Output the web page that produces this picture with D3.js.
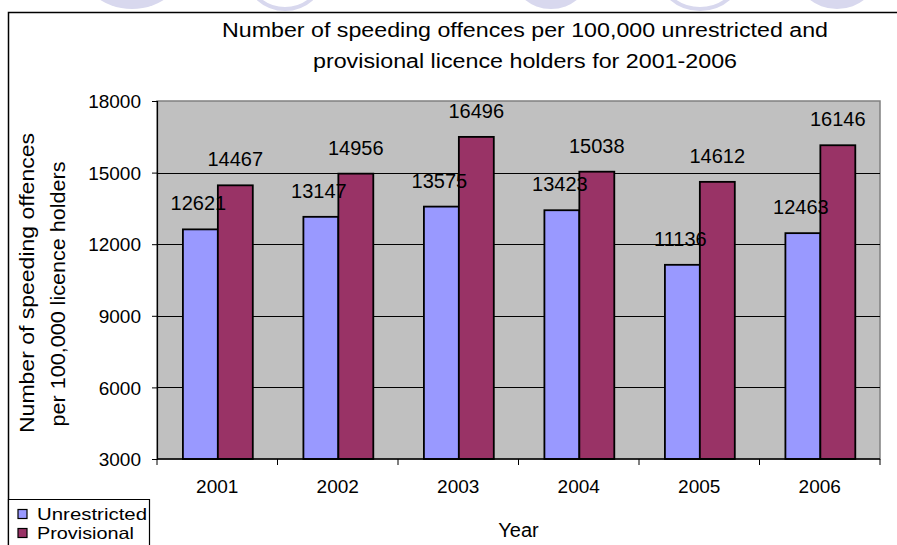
<!DOCTYPE html>
<html>
<head>
<meta charset="utf-8">
<script src="https://cdn.jsdelivr.net/npm/d3@7"></script>
<style>
  html, body { margin: 0; padding: 0; background: #fff; }
  svg { display: block; font-family: "Liberation Sans", Arial, sans-serif; }
</style>
</head>
<body>
<svg id="chart" width="897" height="545"></svg>
<script>
const years = ["2001", "2002", "2003", "2004", "2005", "2006"];
const seriesNames = ["Unrestricted", "Provisional"];
const unrestricted = [12621, 13147, 13575, 13423, 11136, 12463];
const provisional = [14467, 14956, 16496, 15038, 14612, 16146];
const yTicks = [3000, 6000, 9000, 12000, 15000, 18000];
const colors = ["#9999FF", "#993366"];
const titleLines = ["Number of speeding offences per 100,000 unrestricted and", "provisional licence holders for 2001-2006"];
const yTitleLines = ["Number of speeding offences", "per 100,000 licence holders"];

const svg = d3.select("#chart");

// decorative background shapes at the top edge
const deco = [
  {cx: 132, r: 55, fill: true},
  {cx: 285, r: 37, fill: false},
  {cx: 551, r: 38, fill: true},
  {cx: 700, r: 41, fill: false},
  {cx: 837, r: 41, fill: true}
];
svg.selectAll("ellipse.deco").data(deco).enter().append("ellipse")
  .attr("class", "deco")
  .attr("cx", d => d.cx).attr("cy", d => 9 - d.r * 0.9)
  .attr("rx", d => d.r).attr("ry", d => d.r * 0.9)
  .attr("fill", d => d.fill ? "#D8D8EE" : "none")
  .attr("stroke", "#D8D8EE").attr("stroke-width", d => d.fill ? 0 : 4);

// outer frame
svg.append("path").attr("d", "M8.5,545 V12.5 H897")
  .attr("fill", "none").attr("stroke", "#000").attr("stroke-width", 1.5);

const pLeft = 157, pRight = 880, pTop = 101, pBottom = 459;

const x0 = d3.scaleBand().domain(years).range([pLeft, pRight]).padding(0);
const bw = x0.bandwidth();
const x1 = d3.scaleBand().domain(seriesNames).range([bw * 0.215, bw * 0.795]).padding(0);
const y = d3.scaleLinear().domain([3000, 18000]).range([pBottom, pTop]);

// plot area
svg.append("rect").attr("x", pLeft).attr("y", pTop)
  .attr("width", pRight - pLeft).attr("height", pBottom - pTop)
  .attr("fill", "#C0C0C0").attr("stroke", "#808080").attr("stroke-width", 1.5);

// gridlines
svg.append("g").selectAll("line").data(yTicks.filter(t => t > 3000 && t < 18000)).enter().append("line")
  .attr("x1", pLeft).attr("x2", pRight)
  .attr("y1", d => Math.round(y(d)) + 0.5).attr("y2", d => Math.round(y(d)) + 0.5)
  .attr("stroke", "#000").attr("stroke-width", 1);

// bars
const data = years.map((yr, i) => ({year: yr, vals: [unrestricted[i], provisional[i]]}));
const groups = svg.append("g").selectAll("g").data(data).enter().append("g")
  .attr("transform", d => `translate(${x0(d.year)},0)`);
groups.selectAll("rect").data(d => d.vals.map((v, j) => ({name: seriesNames[j], v, j}))).enter().append("rect")
  .attr("x", d => x1(d.name)).attr("width", x1.bandwidth())
  .attr("y", d => y(d.v)).attr("height", d => y(3000) - y(d.v))
  .attr("fill", d => colors[d.j]).attr("stroke", "#000").attr("stroke-width", 1.8);
groups.selectAll("text").data(d => d.vals.map((v, j) => ({name: seriesNames[j], v, j}))).enter().append("text")
  .attr("x", d => x1(d.name) + x1.bandwidth() / 2 - (d.j === 0 ? 2 : 0))
  .attr("y", d => y(d.v) - 19)
  .attr("text-anchor", "middle").attr("font-size", 20).attr("fill", "#000")
  .text(d => d.v);

// y axis
const yAxis = d3.axisLeft(y).tickValues(yTicks).tickSize(5).tickPadding(11).tickFormat(d3.format("d"));
const yg = svg.append("g").attr("transform", `translate(${pLeft},0)`).call(yAxis);
yg.select(".domain").attr("stroke", "#000").attr("stroke-width", 1.2);
yg.selectAll(".tick line").attr("stroke", "#000");
yg.selectAll(".tick text").attr("font-size", 19).attr("font-family", "Liberation Sans, Arial, sans-serif").attr("fill", "#000").attr("dy", "0.35em");

// x axis
const xAxis = d3.axisBottom(x0).tickSize(0).tickPadding(21);
const xg = svg.append("g").attr("transform", `translate(0,${pBottom})`).call(xAxis);
xg.select(".domain").remove();
xg.selectAll(".tick text").attr("font-size", 19).attr("font-family", "Liberation Sans, Arial, sans-serif").attr("fill", "#000");
svg.append("line").attr("x1", pLeft).attr("x2", pRight).attr("y1", pBottom).attr("y2", pBottom)
  .attr("stroke", "#000").attr("stroke-width", 1.5);
const boundaries = years.map(yr => x0(yr)).concat([pRight]);
svg.append("g").selectAll("line").data(boundaries).enter().append("line")
  .attr("x1", d => d).attr("x2", d => d).attr("y1", pBottom).attr("y2", pBottom + 6)
  .attr("stroke", "#000").attr("stroke-width", 1);

// title
const titleWidths = [606, 424];
svg.append("g").selectAll("text").data(titleLines).enter().append("text")
  .attr("x", 525).attr("y", (d, i) => 37 + i * 31)
  .attr("text-anchor", "middle").attr("font-size", 20).attr("fill", "#000")
  .attr("textLength", (d, i) => titleWidths[i]).attr("lengthAdjust", "spacingAndGlyphs")
  .text(d => d);

// y title
const yTitleWidths = [300, 265];
const yTitleCenters = [283, 294];
svg.append("g").selectAll("text").data(yTitleLines).enter().append("text")
  .attr("transform", (d, i) => `translate(${i === 0 ? 34 : 65},${yTitleCenters[i]}) rotate(-90)`)
  .attr("text-anchor", "middle").attr("font-size", 21).attr("fill", "#000")
  .attr("textLength", (d, i) => yTitleWidths[i]).attr("lengthAdjust", "spacingAndGlyphs")
  .text(d => d);

// x title
svg.append("text").attr("x", (pLeft + pRight) / 2).attr("y", 537)
  .attr("text-anchor", "middle").attr("font-size", 20).attr("fill", "#000").text("Year");

// legend
const legendWidths = [110, 97];
const lg = svg.append("g");
lg.append("path").attr("d", "M8.5,545 V499.5 H149.5 V545")
  .attr("fill", "#fff").attr("stroke", "#000").attr("stroke-width", 1.2);
const li = lg.selectAll("g.item").data(seriesNames).enter().append("g").attr("class", "item")
  .attr("transform", (d, i) => `translate(0,${519.5 + i * 19})`);
li.append("rect").attr("x", 18).attr("y", -10).attr("width", 9).attr("height", 9)
  .attr("fill", (d, i) => colors[i]).attr("stroke", "#000").attr("stroke-width", 1.2);
li.append("text").attr("x", 37).attr("y", 0).attr("font-size", 16.5).attr("fill", "#000")
  .attr("textLength", (d, i) => legendWidths[i]).attr("lengthAdjust", "spacingAndGlyphs")
  .text(d => d);
</script>
</body>
</html>
